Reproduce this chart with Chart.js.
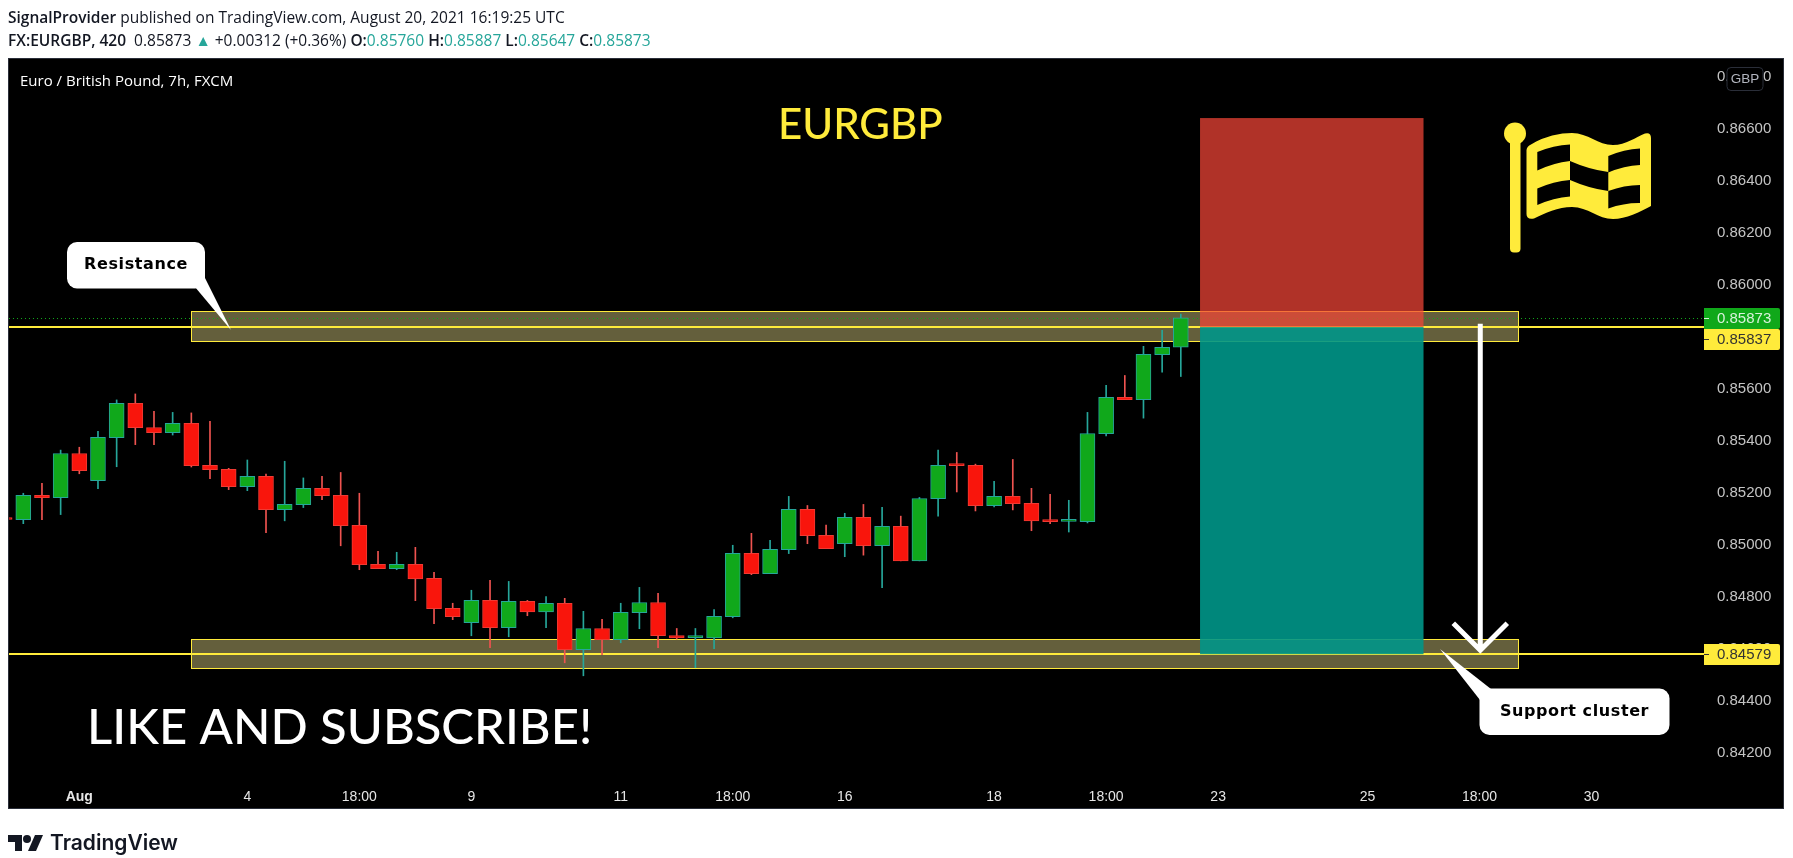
<!DOCTYPE html>
<html>
<head>
<meta charset="utf-8">
<title>EURGBP</title>
<script src="https://cdn.jsdelivr.net/npm/chart.js@4"></script>
<style>
    html, body { margin: 0; padding: 0; background: #fff; }
    body { width: 1793px; height: 858px; overflow: hidden; position: relative; }
    canvas { position: absolute; left: 0; top: 0; }
    .head { position: absolute; left: 8px; white-space: nowrap; font-family: "Open Sans", sans-serif; font-size: 15.5px; color: #131722; line-height: 20px; }
    .head b { font-weight: 600; }
    .head i { font-style: normal; color: #26a69a; }
    #logo { position: absolute; left: 8px; top: 834px; }
    #logoText { position: absolute; left: 50px; top: 829px; font-family: Inter, sans-serif; font-weight: 600; font-size: 21px; line-height: 28px; color: #131722; }
</style>
</head>
<body>
<canvas id="chart" width="1793" height="858"></canvas>
<div class="head" style="top:7px"><b>SignalProvider</b> published on TradingView.com, August 20, 2021 16:19:25 UTC</div>
<div class="head" style="top:30px"><b>FX:EURGBP, 420</b>&nbsp; 0.85873 <i>▲</i> +0.00312 (+0.36%) <b>O:</b><i>0.85760</i> <b>H:</b><i>0.85887</i> <b>L:</b><i>0.85647</i> <b>C:</b><i>0.85873</i></div>
<svg id="logo" width="36" height="18" viewBox="0 0 36 18">
    <path d="M0 1h14v16H7V8H0z" fill="#131722"/>
    <circle cx="19" cy="5" r="4" fill="#131722"/>
    <path d="M27 1h8l-7 16h-8z" fill="#131722"/>
</svg>
<div id="logoText">TradingView</div>

<script>
// Candles (slot 0 is the stub cut by the left edge)
const opens = [0.85103, 0.85096, 0.85190, 0.85181, 0.85351, 0.85246, 0.85412, 0.85544, 0.85451, 0.85431,
    0.85467, 0.85305, 0.85290, 0.85223, 0.85263, 0.85135, 0.85154, 0.85217, 0.85190, 0.85075,
    0.84925, 0.84908, 0.84925, 0.84871, 0.84755, 0.84700, 0.84786, 0.84681, 0.84782, 0.84742,
    0.84775, 0.84596, 0.84678, 0.84635, 0.84739, 0.84778, 0.84651, 0.84643, 0.84642, 0.84723,
    0.84967, 0.84889, 0.84981, 0.85136, 0.85036, 0.85004, 0.85105, 0.84996, 0.85071, 0.84938,
    0.85177, 0.85305, 0.85305, 0.85150, 0.85186, 0.85159, 0.85094, 0.85090, 0.85089, 0.85427,
    0.85567, 0.85558, 0.85731, 0.85760];
const highs = [0.85103, 0.85198, 0.85236, 0.85364, 0.85375, 0.85436, 0.85557, 0.85580, 0.85513, 0.85509,
    0.85507, 0.85475, 0.85294, 0.85326, 0.85272, 0.85321, 0.85257, 0.85263, 0.85278, 0.85198,
    0.84975, 0.84971, 0.84990, 0.84894, 0.84775, 0.84825, 0.84863, 0.84859, 0.84786, 0.84801,
    0.84794, 0.84744, 0.84713, 0.84775, 0.84836, 0.84813, 0.84678, 0.84678, 0.84751, 0.84998,
    0.85044, 0.85017, 0.85186, 0.85151, 0.85076, 0.85121, 0.85155, 0.85144, 0.85110, 0.85182,
    0.85364, 0.85355, 0.85310, 0.85244, 0.85328, 0.85217, 0.85194, 0.85171, 0.85509, 0.85613,
    0.85651, 0.85763, 0.85825, 0.85887];
const lows = [0.85097, 0.85081, 0.85096, 0.85116, 0.85273, 0.85216, 0.85300, 0.85385, 0.85385, 0.85422,
    0.85299, 0.85254, 0.85212, 0.85208, 0.85046, 0.85092, 0.85143, 0.85173, 0.84996, 0.84904,
    0.84908, 0.84904, 0.84785, 0.84696, 0.84712, 0.84650, 0.84604, 0.84646, 0.84727, 0.84681,
    0.84546, 0.84496, 0.84577, 0.84623, 0.84677, 0.84604, 0.84637, 0.84527, 0.84600, 0.84719,
    0.84885, 0.84889, 0.84966, 0.85004, 0.84985, 0.84954, 0.84960, 0.84835, 0.84938, 0.84938,
    0.85110, 0.85203, 0.85130, 0.85145, 0.85134, 0.85054, 0.85081, 0.85049, 0.85084, 0.85419,
    0.85558, 0.85487, 0.85664, 0.85647];
const closes = [0.85097, 0.85190, 0.85181, 0.85351, 0.85285, 0.85413, 0.85544, 0.85450, 0.85431, 0.85467,
    0.85304, 0.85289, 0.85223, 0.85263, 0.85135, 0.85155, 0.85217, 0.85189, 0.85073, 0.84923,
    0.84908, 0.84925, 0.84869, 0.84754, 0.84723, 0.84786, 0.84681, 0.84782, 0.84742, 0.84775,
    0.84596, 0.84678, 0.84635, 0.84740, 0.84778, 0.84650, 0.84642, 0.84644, 0.84725, 0.84967,
    0.84889, 0.84982, 0.85136, 0.85035, 0.84985, 0.85105, 0.84996, 0.85071, 0.84938, 0.85178,
    0.85305, 0.85304, 0.85150, 0.85186, 0.85158, 0.85092, 0.85089, 0.85091, 0.85428, 0.85567,
    0.85558, 0.85732, 0.85759, 0.85873];

// Axis ticks
const priceTicks = [0.842, 0.844, 0.846, 0.848, 0.850, 0.852, 0.854, 0.856, 0.858, 0.860, 0.862, 0.864, 0.866, 0.868];
const timeSlots = [4, 13, 19, 25, 33, 39, 45, 53, 59, 65, 73, 79, 85];
const timeLabels = ['Aug', '4', '18:00', '9', '11', '18:00', '16', '18', '18:00', '23', '25', '18:00', '30'];

// Drawn levels and zones (prices and candle slots)
const lastPrice = 0.85873;
const entryPrice = 0.85837;
const targetPrice = 0.84579;
const stopPrice = 0.86641;
const resistanceZone = [0.85899, 0.85782];
const supportZone = [0.84636, 0.84525];
const zoneSlots = [10, 81.1];
const positionSlots = [64.03, 76];
const arrowSlot = 79.04;
const arrowTop = 0.85850;

const wickData = opens.map((o, i) => ({ x: i, y: [lows[i], highs[i]] }));
const bodyData = opens.map((o, i) => ({ x: i, y: [o, closes[i]] }));
const isUp = i => closes[i] >= opens[i];

function roundBox(ctx, x, y, w, h, r) {
    ctx.beginPath();
    ctx.roundRect(x, y, w, h, r);
}

function drawCallout(ctx, box, tail, text) {
    ctx.fillStyle = '#ffffff';
    roundBox(ctx, box[0], box[1], box[2], box[3], 10);
    ctx.fill();
    ctx.beginPath();
    ctx.moveTo(tail[0], tail[1]);
    ctx.lineTo(tail[2], tail[3]);
    ctx.lineTo(tail[4], tail[5]);
    ctx.closePath();
    ctx.fill();
    ctx.fillStyle = '#000000';
    ctx.font = 'bold 16px "DejaVu Sans"';
    ctx.letterSpacing = '0.6px';
    ctx.textAlign = 'center';
    ctx.textBaseline = 'middle';
    ctx.fillText(text, box[0] + box[2] / 2, box[1] + box[3] / 2);
    ctx.letterSpacing = '0px';
}

function priceTag(ctx, y, top, bg, fg, text) {
    ctx.fillStyle = bg;
    roundBox(ctx, 1704, top, 76, 21, [0, 2, 2, 0]);
    ctx.fill();
    ctx.fillStyle = fg;
    ctx.fillRect(1704, y, 5, 1);
    ctx.font = '15px "Liberation Sans"';
    ctx.textAlign = 'left';
    ctx.textBaseline = 'middle';
    ctx.fillText(text, 1717, top + 11);
}

function wave(ctx, x0, y0, x1, y1, cy) {
    ctx.bezierCurveTo(x0 + (x1 - x0) * 0.35, cy, x0 + (x1 - x0) * 0.7, y1 + (y0 - y1) * 0.1, x1, y1);
}

function flagCell(ctx, x0, x1, topL, topR, botL, botR) {
    ctx.beginPath();
    ctx.moveTo(x0, topL);
    ctx.quadraticCurveTo((x0 + x1) / 2, (topL + topR) / 2 - (topL > topR ? 3 : -3), x1, topR);
    ctx.lineTo(x1, botR);
    ctx.quadraticCurveTo((x0 + x1) / 2, (botL + botR) / 2 - (botL > botR ? 3 : -3), x0, botL);
    ctx.closePath();
    ctx.fill();
}

function drawFlag(ctx) {
    const yellow = '#ffeb3b';
    ctx.fillStyle = yellow;
    ctx.beginPath();
    ctx.arc(1515, 133.5, 11, 0, Math.PI * 2);
    ctx.fill();
    roundBox(ctx, 1510, 135, 10.5, 117.5, 4);
    ctx.fill();
    ctx.beginPath();
    ctx.moveTo(1526.5, 150);
    ctx.quadraticCurveTo(1527, 146, 1531, 144.5);
    ctx.bezierCurveTo(1545, 136, 1560, 133, 1572, 133);
    ctx.bezierCurveTo(1588, 133, 1598, 145, 1613, 145);
    ctx.bezierCurveTo(1626, 145, 1636, 137, 1645, 133.5);
    ctx.quadraticCurveTo(1651, 132, 1651, 138);
    ctx.lineTo(1651, 206);
    ctx.bezierCurveTo(1640, 212, 1626, 219, 1613, 219);
    ctx.bezierCurveTo(1598, 219, 1588, 207, 1572, 207);
    ctx.bezierCurveTo(1558, 207, 1545, 213, 1534, 218.5);
    ctx.quadraticCurveTo(1526.5, 220, 1526.5, 214);
    ctx.closePath();
    ctx.fill();
    ctx.fillStyle = '#000000';
    flagCell(ctx, 1537.3, 1570, 152, 144.5, 170.5, 161);
    flagCell(ctx, 1570, 1608.3, 161, 172, 180, 191);
    flagCell(ctx, 1608.3, 1640, 156, 148.5, 172.5, 165);
    flagCell(ctx, 1537.3, 1570, 188.5, 180, 205, 196.5);
    flagCell(ctx, 1608.3, 1640, 191, 185, 208.5, 203);
}

const overlay = {
    id: 'overlay',
    beforeDraw(chart) {
        const ctx = chart.ctx;
        ctx.fillStyle = '#ffffff';
        ctx.fillRect(0, 0, chart.width, chart.height);
        ctx.fillStyle = '#000000';
        ctx.fillRect(8, 58, 1776, 751);
        ctx.strokeStyle = '#2a2e39';
        ctx.lineWidth = 1;
        ctx.strokeRect(8.5, 58.5, 1775, 750);
    },
    beforeDatasetsDraw(chart) {
        const ctx = chart.ctx;
        const x = chart.scales.x;
        const y = chart.scales.y;
        const xa = x.getPixelForValue(zoneSlots[0]);
        const xb = x.getPixelForValue(zoneSlots[1]);
        ctx.save();

        // zones
        [resistanceZone, supportZone].forEach(zone => {
            const top = Math.round(y.getPixelForValue(zone[0]));
            const bottom = Math.round(y.getPixelForValue(zone[1]));
            ctx.fillStyle = 'rgba(250,238,150,0.4)';
            ctx.fillRect(xa, top, xb - xa, bottom - top);
            ctx.strokeStyle = '#ffeb3b';
            ctx.lineWidth = 1;
            ctx.strokeRect(Math.round(xa) + 0.5, top + 0.5, Math.round(xb - xa), bottom - top);
        });

        // last price, dotted
        const lastY = Math.round(y.getPixelForValue(lastPrice)) + 0.5;
        ctx.strokeStyle = '#10a81a';
        ctx.setLineDash([1, 3]);
        ctx.beginPath();
        ctx.moveTo(9, lastY);
        ctx.lineTo(1704, lastY);
        ctx.stroke();
        ctx.setLineDash([]);

        // horizontal levels
        ctx.strokeStyle = '#ffeb3b';
        ctx.lineWidth = 2;
        [entryPrice, targetPrice].forEach(p => {
            const ly = Math.round(y.getPixelForValue(p));
            ctx.beginPath();
            ctx.moveTo(9, ly);
            ctx.lineTo(1704, ly);
            ctx.stroke();
        });

        // short position box
        const pa = x.getPixelForValue(positionSlots[0]);
        const pb = x.getPixelForValue(positionSlots[1]);
        const stopY = y.getPixelForValue(stopPrice);
        const entryY = y.getPixelForValue(entryPrice);
        const targetY = y.getPixelForValue(targetPrice);
        ctx.fillStyle = 'rgba(244,69,55,0.72)';
        ctx.fillRect(pa, stopY, pb - pa, entryY - stopY);
        ctx.fillStyle = 'rgba(0,150,136,0.9)';
        ctx.fillRect(pa, entryY, pb - pa, targetY - entryY);
        ctx.restore();
    },
    afterDraw(chart) {
        const ctx = chart.ctx;
        const x = chart.scales.x;
        const y = chart.scales.y;
        ctx.save();

        // down arrow
        const ax = x.getPixelForValue(arrowSlot);
        const ay0 = y.getPixelForValue(arrowTop);
        const ay1 = y.getPixelForValue(targetPrice) - 4;
        ctx.strokeStyle = '#ffffff';
        ctx.lineWidth = 5;
        ctx.beginPath();
        ctx.moveTo(ax, ay0);
        ctx.lineTo(ax, ay1);
        ctx.moveTo(ax - 27, ay1 - 27);
        ctx.lineTo(ax, ay1);
        ctx.lineTo(ax + 27, ay1 - 27);
        ctx.stroke();

        drawCallout(ctx, [67, 242, 138, 46.5], [195, 287, 231, 330, 204, 276], 'Resistance');
        drawCallout(ctx, [1479.5, 688.5, 190, 46.5], [1480, 700, 1440, 649, 1491, 689], 'Support cluster');

        // chart title, headings
        ctx.textBaseline = 'alphabetic';
        ctx.textAlign = 'left';
        ctx.fillStyle = '#ffffff';
        ctx.font = '15px "Open Sans"';
        ctx.fillText('Euro / British Pound, 7h, FXCM', 20, 86);
        ctx.fillStyle = '#ffeb3b';
        ctx.font = '500 42px Lato';
        ctx.fillText('EURGBP', 778, 139);
        ctx.fillStyle = '#ffffff';
        ctx.font = '500 49px Lato';
        ctx.fillText('LIKE AND SUBSCRIBE!', 87, 744);

        drawFlag(ctx);

        // price tags sit on the axis
        priceTag(ctx, 318, 308, '#10a81a', '#d8f2da', lastPrice.toFixed(5));
        priceTag(ctx, 339, 329, '#ffeb3b', '#333333', entryPrice.toFixed(5));
        priceTag(ctx, 654, 644, '#ffeb3b', '#333333', targetPrice.toFixed(5));

        // currency badge
        ctx.fillStyle = '#000000';
        roundBox(ctx, 1727, 67.5, 36, 23, 4);
        ctx.fill();
        ctx.strokeStyle = '#2a2e39';
        ctx.lineWidth = 1;
        ctx.stroke();
        ctx.fillStyle = '#b2b5be';
        ctx.font = '13.5px "Liberation Sans"';
        ctx.textAlign = 'center';
        ctx.textBaseline = 'middle';
        ctx.fillText('GBP', 1745, 79.5);
        ctx.restore();
    }
};

new Chart(document.getElementById('chart').getContext('2d'), {
    type: 'bar',
    data: {
        datasets: [
            {
                label: 'Wicks',
                data: wickData,
                barThickness: 1,
                minBarLength: 1,
                grouped: false,
                order: 2,
                backgroundColor: wickData.map((d, i) => isUp(i) ? '#26a69a' : '#ef5350'),
                borderWidth: 0
            },
            {
                label: 'Bodies',
                data: bodyData,
                barThickness: 15,
                minBarLength: 2,
                grouped: false,
                order: 1,
                backgroundColor: bodyData.map((d, i) => isUp(i) ? '#10a81b' : '#f9150c'),
                borderColor: bodyData.map((d, i) => isUp(i) ? '#26a69a' : '#ef3a33'),
                borderWidth: 1,
                borderSkipped: false
            }
        ]
    },
    options: {
        responsive: false,
        animation: false,
        events: [],
        layout: { padding: { left: 9, top: 58, right: 9, bottom: 49 } },
        plugins: { legend: { display: false }, tooltip: { enabled: false } },
        scales: {
            x: {
                type: 'linear',
                offset: false,
                min: 0.234,
                max: 90.97,
                grid: { display: false, drawTicks: false },
                border: { display: false },
                afterFit: s => { s.height = 24; },
                afterBuildTicks: s => { s.ticks = timeSlots.map(v => ({ value: v })); },
                ticks: {
                    autoSkip: false,
                    maxRotation: 0,
                    padding: 4,
                    color: '#e6e6e6',
                    font: c => ({ family: '"Liberation Sans"', size: 14, weight: c.index === 0 ? 'bold' : 'normal' }),
                    callback: (v, i) => timeLabels[i]
                }
            },
            y: {
                position: 'right',
                min: 0.84076,
                max: 0.86872,
                grid: { display: false, drawTicks: false },
                border: { display: false },
                afterFit: s => { s.width = 81; },
                afterBuildTicks: s => { s.ticks = priceTicks.map(v => ({ value: v })); },
                ticks: {
                    autoSkip: false,
                    padding: 14,
                    color: '#c4c4c4',
                    font: { family: '"Liberation Sans"', size: 15 },
                    callback: v => v.toFixed(5)
                }
            }
        }
    },
    plugins: [overlay]
});
</script>
</body>
</html>
